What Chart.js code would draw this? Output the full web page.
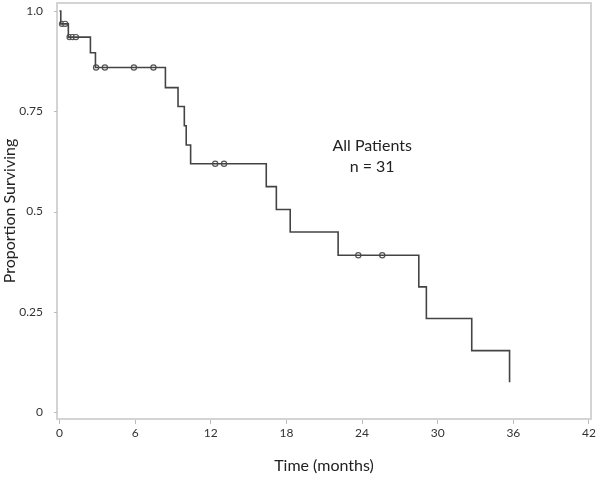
<!DOCTYPE html>
<html>
<head>
<meta charset="utf-8">
<script src="https://cdn.jsdelivr.net/npm/chart.js@4"></script>
<style>
  html, body { margin: 0; padding: 0; background: #fff; }
  #wrap { width: 600px; height: 477px; }
</style>
</head>
<body>
<div id="wrap"><canvas id="kmChart" width="600" height="477"></canvas></div>
<script>
// step times (months) and survival level after each drop
const stepTimes = [0, 0.1, 0.7, 2.45, 2.85, 8.4, 9.4, 9.9, 10.05, 10.4, 16.4, 17.2, 18.3, 22.1, 28.5, 29.1, 32.7, 35.7];
const stepSurvival = [1.0, 0.968, 0.935, 0.896, 0.859, 0.809, 0.762, 0.714, 0.666, 0.619, 0.562, 0.505, 0.449, 0.391, 0.312, 0.233, 0.153, 0.074];

// censored observations
const censorTimes = [0.2, 0.45, 0.8, 1.05, 1.3, 2.9, 3.6, 5.9, 7.45, 12.35, 13.05, 23.7, 25.6];
const censorSurvival = [0.968, 0.968, 0.935, 0.935, 0.935, 0.859, 0.859, 0.859, 0.859, 0.619, 0.619, 0.391, 0.391];

const xTicks = [0, 6, 12, 18, 24, 30, 36, 42];
const yTicks = [0, 0.25, 0.5, 0.75, 1.0];
const yTickLabels = ["0", "0.25", "0.5", "0.75", "1.0"];

const annotationLines = ["All Patients", "n = 31"];

const fontFamily = "Lato, 'Open Sans', sans-serif";

const framePlugin = {
    id: "frame",
    afterDraw(chart) {
        const { ctx, chartArea, scales } = chart;
        ctx.save();
        ctx.strokeStyle = "#d4d4d4";
        ctx.lineWidth = 2;
        ctx.strokeRect(chartArea.left, chartArea.top, chartArea.right - chartArea.left, chartArea.bottom - chartArea.top);
        // y tick marks
        ctx.strokeStyle = "#bbbbbb";
        ctx.lineWidth = 1;
        yTicks.forEach(v => {
            const y = Math.round(scales.y.getPixelForValue(v)) + 0.5;
            ctx.beginPath();
            ctx.moveTo(chartArea.left - 3, y);
            ctx.lineTo(chartArea.left, y);
            ctx.stroke();
        });
        // annotation text
        ctx.fillStyle = "#222";
        ctx.font = "16px " + fontFamily;
        ctx.textAlign = "center";
        ctx.textBaseline = "middle";
        const cx = scales.x.getPixelForValue(24.8);
        ctx.fillText(annotationLines[0], cx, scales.y.getPixelForValue(0.663));
        ctx.fillText(annotationLines[1], cx, scales.y.getPixelForValue(0.611));
        ctx.restore();
    }
};

const ctx = document.getElementById("kmChart").getContext("2d");

const chart = new Chart(ctx, {
    type: "scatter",
    data: {
        datasets: [
            {
                label: "Survival",
                type: "line",
                data: stepTimes.map((t, i) => ({ x: t, y: stepSurvival[i] })),
                stepped: true,
                borderColor: "#444",
                borderWidth: 1.6,
                pointRadius: 0,
                fill: false
            },
            {
                label: "Censored",
                data: censorTimes.map((t, i) => ({ x: t, y: censorSurvival[i] })),
                pointStyle: "circle",
                pointRadius: 2.6,
                borderColor: "#555",
                borderWidth: 1.2,
                backgroundColor: "#ffffff"
            }
        ]
    },
    plugins: [framePlugin],
    options: {
        responsive: false,
        animation: false,
        layout: { autoPadding: false, padding: { top: 3, right: 9, left: 0, bottom: 0 } },
        plugins: {
            legend: { display: false },
            tooltip: { enabled: false }
        },
        scales: {
            x: {
                type: "linear",
                min: -0.2,
                max: 42.16,
                afterBuildTicks: scale => { scale.ticks = xTicks.map(v => ({ value: v })); },
                afterFit: scale => {
                    scale.height = 58;
                    scale.paddingLeft = 0;
                    scale.paddingRight = 0;
                },
                grid: { drawOnChartArea: false, drawTicks: true, tickLength: 5, color: "#bbbbbb" },
                border: { display: false },
                ticks: {
                    color: "#333",
                    padding: 2,
                    maxRotation: 0,
                    font: { family: fontFamily, size: 12 }
                },
                title: {
                    display: true,
                    text: "Time (months)",
                    color: "#222",
                    padding: { top: 0, bottom: 2 },
                    font: { family: fontFamily, size: 16 }
                }
            },
            y: {
                type: "linear",
                min: -0.0175,
                max: 1.02,
                afterBuildTicks: scale => { scale.ticks = yTicks.map(v => ({ value: v })); },
                afterFit: scale => {
                    scale.width = 57;
                    scale.paddingTop = 0;
                    scale.paddingBottom = 0;
                },
                grid: { display: false },
                border: { display: false },
                ticks: {
                    color: "#333",
                    padding: 6,
                    font: { family: fontFamily, size: 12 },
                    callback: (value) => {
                        const i = yTicks.indexOf(value);
                        return i >= 0 ? yTickLabels[i] : "";
                    }
                },
                title: {
                    display: true,
                    text: "Proportion Surviving",
                    color: "#222",
                    padding: { top: 0, bottom: 0 },
                    font: { family: fontFamily, size: 16 }
                }
            }
        }
    }
});
</script>
</body>
</html>
